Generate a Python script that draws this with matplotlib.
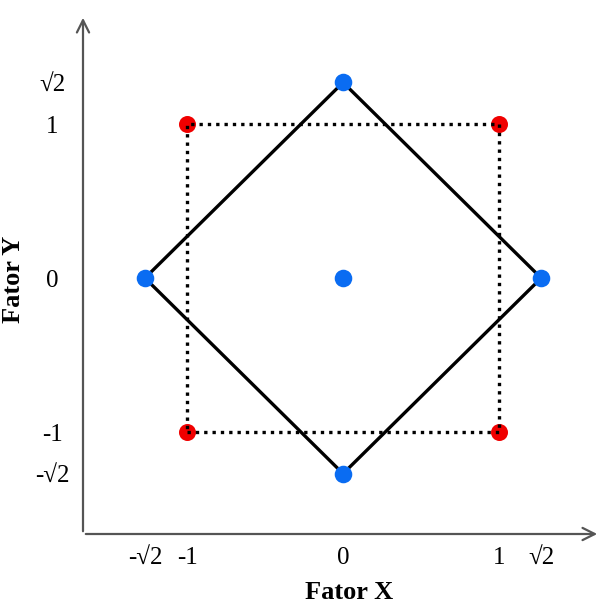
import numpy as np
import matplotlib.pyplot as plt

plt.rcParams['font.family'] = ['Liberation Serif', 'DejaVu Serif']

# axial distance of the star points (labelled sqrt(2) on the axes)
alpha = 1.27

# factorial points (red) and star/center points (blue)
fact_x = [-1, 1, 1, -1]
fact_y = [-1, -1, 1, 1]
star_x = [-alpha, 0, alpha, 0]
star_y = [0, alpha, 0, -alpha]
center_x = [0]
center_y = [0]

tick_vals = [-alpha, -1, 0, 1, alpha]
tick_labels = ['-√2', '-1', '0', '1', '√2']

fig = plt.figure(figsize=(6, 6.04), dpi=100)
ax = fig.add_axes([83 / 600, 1 - 534 / 604, 517 / 600, 519 / 604])
ax.set_xlim(-1.667, 1.647)
ax.set_ylim(-1.662, 1.708)

# dotted square through the factorial points
ax.plot(fact_x + fact_x[:1], fact_y + fact_y[:1], color='black', lw=2.4,
        linestyle=(0, (1, 1.5)), zorder=3)
ax.scatter(fact_x, fact_y, s=150, color='#f00000', zorder=2, linewidths=0)

# solid diamond through the star points
ax.plot(star_x + star_x[:1], star_y + star_y[:1], color='black', lw=2.4, zorder=3)
ax.scatter(star_x + center_x, star_y + center_y, s=160, color='#0a6cf2',
           zorder=4, linewidths=0, marker='o')

for s in ax.spines.values():
    s.set_visible(False)

# axes drawn as arrows
arrow = dict(arrowstyle='->', color='#555555', lw=1.6, mutation_scale=22)
ax.annotate('', xy=(1.0, 0), xytext=(0, 0), xycoords='axes fraction',
            textcoords='axes fraction', arrowprops=arrow, annotation_clip=False)
ax.annotate('', xy=(0, 1.0), xytext=(0, 0), xycoords='axes fraction',
            textcoords='axes fraction', arrowprops=arrow, annotation_clip=False)

ax.set_xticks(tick_vals)
ax.set_xticklabels(tick_labels, fontsize=18)
ax.set_yticks(tick_vals)
ax.set_yticklabels(tick_labels, fontsize=18, ha='center')
ax.tick_params(axis='x', length=0, pad=9)
ax.tick_params(axis='y', length=0, pad=22)

ax.set_xlabel('Fator X', fontsize=19, fontweight='bold', labelpad=9)
ax.xaxis.set_label_coords(0.515, -0.09)
ax.set_ylabel('Fator Y', fontsize=19, fontweight='bold')
ax.yaxis.set_label_coords(-0.112, 0.49)

fig.savefig('out.png', dpi=100)
